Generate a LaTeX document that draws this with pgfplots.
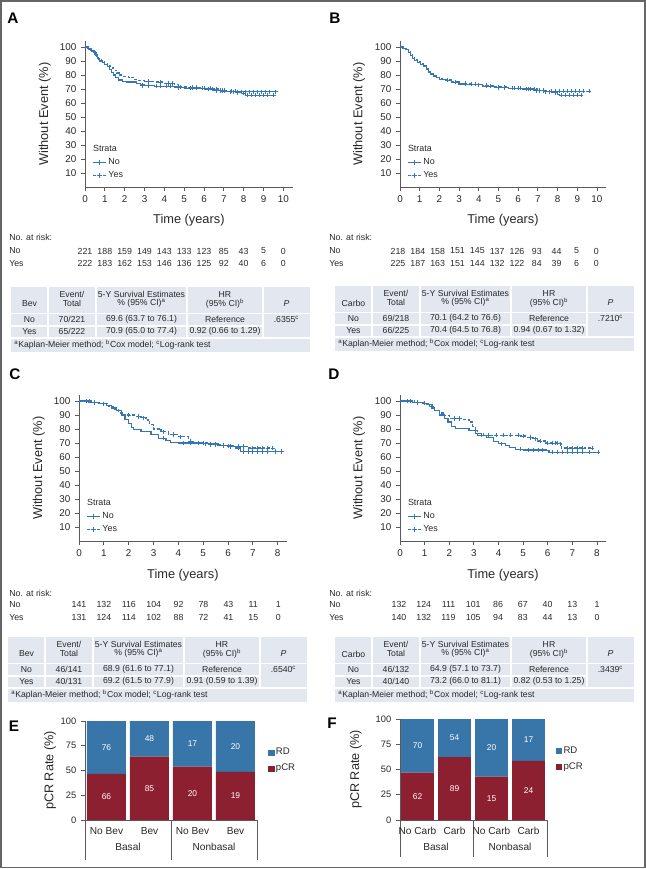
\documentclass[border=0pt]{standalone}
\usepackage{pgfplots}
\pgfplotsset{compat=1.18}
\usepackage{fontspec}
\setmainfont{Liberation Sans}
\definecolor{kmblue}{RGB}{55,118,182}
\definecolor{rdblue}{RGB}{56,117,168}
\definecolor{pcrred}{RGB}{140,32,48}
\definecolor{tblbg}{RGB}{226,231,240}
\definecolor{txt}{RGB}{40,40,40}
\definecolor{axc}{RGB}{90,90,90}
\newcommand\fs[1]{\fontsize{#1}{#1}\selectfont}

\pgfplotsset{
  km/.style={scale only axis, anchor=south west, height=109.2pt, ymin=0, ymax=104,
    ytick={10,20,...,100},
    axis x line*=bottom, axis y line*=left, tick align=outside, major tick length=3pt,
    axis line style={axc, line width=0.7pt}, tick style={axc, line width=0.6pt},
    tick label style={font=\fs{7.4}, text=txt},
    /pgf/number format/assume math mode=true,
    xlabel={Time (years)}, ylabel={Without Event (\%)},
    label style={font=\fs{9.6}, text=txt},
    legend style={draw=none, fill=none, anchor=north west, font=\fs{6.7}, text=txt,
      row sep=1.5pt, inner sep=0pt, nodes={inner sep=1pt}},
    legend cell align=left,
    legend image code/.code={\draw[mark repeat=2, mark phase=2, ##1] plot coordinates {(0pt,0pt) (5pt,0pt) (10pt,0pt)};},
  },
  kmno/.style={kmblue, line width=0.9pt, const plot, mark=none},
  kmyes/.style={kmblue, line width=0.9pt, const plot, mark=none, dash pattern=on 2.2pt off 1.4pt},
  cens/.style={only marks, kmblue, mark=+, mark size=1.6pt, mark options={solid, line width=0.5pt}},
  legno/.style={kmblue, line width=0.9pt, mark=+, mark options={solid, line width=0.5pt}},
  legyes/.style={kmblue, line width=0.9pt, dash pattern=on 2.2pt off 1.4pt, mark=+, mark options={solid, line width=0.5pt}},
  barax/.style={scale only axis, anchor=south west, ybar stacked, ymin=0, ymax=100,
    ytick={0,25,50,75,100}, xtick={0,1,2,3},
    axis x line*=bottom, axis y line*=left, tick align=outside, major tick length=3pt,
    x tick style={draw=none},
    axis line style={axc, line width=0.7pt}, tick style={axc, line width=0.6pt},
    tick label style={font=\fs{7}, text=txt},
    xticklabel style={font=\fs{7.6}, yshift=1pt},
    /pgf/number format/assume math mode=true,
    ylabel={pCR Rate (\%)}, label style={font=\fs{9.5}, text=txt},
    reverse legend,
    legend style={draw=none, fill=none, anchor=west, font=\fs{7.2}, text=txt,
      row sep=3.5pt, inner sep=0pt, nodes={inner sep=1pt}},
    legend cell align=left,
    legend image code/.code={\fill[##1] (0pt,-2.3pt) rectangle (4.6pt,2.3pt);},
  },
}
\tikzset{
  tb/.style={font=\fs{6.5}, text=txt, inner sep=0pt, anchor=center},
  risk/.style={font=\fs{6.6}, text=txt, inner sep=0pt, anchor=center},
  bl/.style={font=\fs{6.3}, text=white, inner sep=0pt},
  plabel/.style={font=\bfseries\fs{11.5}, text=black, inner sep=0pt},
}

\newcommand\kmtable[9]{%
 \begin{scope}[shift={(#1,#2)}]
  \fill[tblbg] (0,0) rectangle (299,65);
  \foreach \xx in {37,85,176,252} {\draw[white, line width=1.1pt] (\xx,0) -- (\xx,51);}
  \draw[white, line width=1.1pt] (0,26.5) -- (299,26.5);
  \draw[white, line width=1.1pt] (0,38.8) -- (252,38.8);
  \draw[white, line width=1.1pt] (0,51) -- (299,51);
  \node[tb] at (18.5,17) {#3};
  \node[tb] at (61,7.5) {Event/};
  \node[tb] at (61,16.5) {Total};
  \node[tb] at (130.5,7.5) {5-Y Survival Estimates};
  \node[tb] at (130.5,16.5) {\% (95\% CI)\textsuperscript{a}};
  \node[tb] at (214,7.5) {HR};
  \node[tb] at (214,16.5) {(95\% CI)\textsuperscript{b}};
  \node[tb] at (275.5,17) {\textit{P}};
  \node[tb] at (18.5,32.5) {No};
  \node[tb] at (61,32.5) {#4};
  \node[tb] at (130.5,32.5) {#5};
  \node[tb] at (214,32.5) {Reference};
  \node[tb] at (275.5,32.5) {#6\textsuperscript{c}};
  \node[tb] at (18.5,44.5) {Yes};
  \node[tb] at (61,44.5) {#7};
  \node[tb] at (130.5,44.5) {#8};
  \node[tb] at (214,44.5) {#9};
  \node[tb, anchor=west] at (3,58) {\textsuperscript{a}Kaplan-Meier method; \textsuperscript{b}Cox model; \textsuperscript{c}Log-rank test};
 \end{scope}}

\begin{document}
\begin{tikzpicture}
\begin{scope}[x=0.75pt, y=-0.75pt]
  \useasboundingbox (0,0) rectangle (646,869);
  \draw[black!60, line width=1.1pt] (0.8,0.8) rectangle (645.2,867.5);
  % panel letters
  \node[plabel] at (13,18) {A};
  \node[plabel] at (335,18) {B};
  \node[plabel] at (15,374) {C};
  \node[plabel] at (334,374) {D};
  \node[plabel] at (14,726) {E};
  \node[plabel] at (332,723) {F};
  % numbers at risk
  \node[risk, anchor=west] at (9,237) {No. at risk:};
  \node[risk, anchor=west] at (9,251) {No};
  \node[risk, anchor=west] at (9,263.5) {Yes};
  \foreach \v [count=\i from 0] in {221,188,159,149,143,133,123,85,43,5,0} {\node[risk] at ({85+19.83*\i},251) {\v};}
  \foreach \v [count=\i from 0] in {222,183,162,153,146,136,125,92,40,6,0} {\node[risk] at ({85+19.83*\i},263.5) {\v};}
  \node[risk, anchor=west] at (329,237) {No. at risk:};
  \node[risk, anchor=west] at (329,251) {No};
  \node[risk, anchor=west] at (329,263.5) {Yes};
  \foreach \v [count=\i from 0] in {218,184,158,151,145,137,126,93,44,5,0} {\node[risk] at ({398+19.83*\i},251) {\v};}
  \foreach \v [count=\i from 0] in {225,187,163,151,144,132,122,84,39,6,0} {\node[risk] at ({398+19.83*\i},263.5) {\v};}
  \node[risk, anchor=west] at (9,593) {No. at risk:};
  \node[risk, anchor=west] at (9,604.5) {No};
  \node[risk, anchor=west] at (9,617.3) {Yes};
  \foreach \v [count=\i from 0] in {141,132,116,104,92,78,43,11,1} {\node[risk] at ({79+24.9*\i},604.5) {\v};}
  \foreach \v [count=\i from 0] in {131,124,114,102,88,72,41,15,0} {\node[risk] at ({79+24.9*\i},617.3) {\v};}
  \node[risk, anchor=west] at (329,593) {No. at risk:};
  \node[risk, anchor=west] at (329,604.5) {No};
  \node[risk, anchor=west] at (329,617.3) {Yes};
  \foreach \v [count=\i from 0] in {132,124,111,101,86,67,40,13,1} {\node[risk] at ({399+24.75*\i},604.5) {\v};}
  \foreach \v [count=\i from 0] in {140,132,119,105,94,83,44,13,0} {\node[risk] at ({399+24.75*\i},617.3) {\v};}
  % tables
  \kmtable{11}{287}{Bev}{70/221}{69.6 (63.7 to 76.1)}{.6355}{65/222}{70.9 (65.0 to 77.4)}{0.92 (0.66 to 1.29)}
  \kmtable{335}{286}{Carbo}{69/218}{70.1 (64.2 to 76.6)}{.7210}{66/225}{70.4 (64.5 to 76.8)}{0.94 (0.67 to 1.32)}
  \kmtable{8}{637}{Bev}{46/141}{68.9 (61.6 to 77.1)}{.6540}{40/131}{69.2 (61.5 to 77.9)}{0.91 (0.59 to 1.39)}
  \kmtable{335}{637}{Carbo}{46/132}{64.9 (57.1 to 73.7)}{.3439}{40/140}{73.2 (66.0 to 81.1)}{0.82 (0.53 to 1.25)}
  % group dividers and labels for E and F
  \foreach \xx in {85,171,257} {\draw[axc, line width=0.7pt] (\xx,820) -- (\xx,860);}
  \foreach \xx in {400,473,547} {\draw[axc, line width=0.7pt] (\xx,820) -- (\xx,857);}
  \node[font=\fs{7.6}, text=txt] at (128,847) {Basal};
  \node[font=\fs{7.6}, text=txt] at (214,847) {Nonbasal};
  \node[font=\fs{7.6}, text=txt] at (436,847) {Basal};
  \node[font=\fs{7.6}, text=txt] at (510,847) {Nonbasal};
\end{scope}

% ---------- A ----------
\begin{axis}[km, at={(85*0.75pt,-187*0.75pt)}, width=155.8pt, xmin=0, xmax=10.47, xtick={0,...,10},
  xlabel style={at={(axis description cs:0.5,-0.227)}, anchor=center},
  ylabel style={at={(axis description cs:-0.193,0.5)}, anchor=center},
  legend style={at={(rel axis cs:0.035,0.295)}}]
\addlegendimage{empty legend}\addlegendentry{\hspace*{-11.5pt}Strata}
\addplot[kmno, forget plot] coordinates {(0,100)(0.15,99)(0.3,97.5)(0.45,96)(0.55,94)(0.65,92)(0.75,90)(0.9,89)(1.0,87.5)(1.15,86)(1.25,84)(1.35,82)(1.45,80)(1.55,78)(1.7,76.5)(1.9,75.5)(2.1,75)(2.6,74)(2.8,73)(3.0,72.5)(3.5,72)(4.5,71.5)(4.65,71)(5.0,70.5)(6.1,70)(6.5,69)(6.9,68.5)(7.2,68)(7.6,67.5)(7.9,67)(8.1,65.5)(9.5,65.5)};
\addplot[kmyes, forget plot] coordinates {(0,100)(0.2,98.5)(0.35,97)(0.5,95)(0.6,93)(0.7,91)(0.85,89.5)(1.0,88)(1.15,86.5)(1.3,85)(1.45,83.5)(1.6,81.5)(1.75,80)(1.9,79)(2.2,78)(2.5,77)(2.7,76)(3.0,75.5)(3.6,75)(4.0,74)(4.5,73)(4.7,71.5)(5.2,71)(5.8,70.5)(6.5,70)(6.8,69)(7.2,68.5)(7.7,68)(9.6,68)};
\addplot[cens, forget plot] coordinates {(2.9,72.5)(3.2,72.5)(3.6,72)(3.8,72)(4.1,72)(4.3,72)(4.7,71)(5.3,70.5)(5.6,70.5)(5.9,70.5)(6.2,70)(6.4,70)(6.6,69)(6.8,69)(7.0,68.5)(7.3,68)(7.5,68)(7.7,67.5)(8.0,67)(8.2,65.5)(8.4,65.5)(8.6,65.5)(8.8,65.5)(9.0,65.5)(9.2,65.5)(9.5,65.5)};
\addplot[cens, forget plot] coordinates {(3.2,75.5)(3.8,75)(4.2,74)(4.4,74)(4.8,71.5)(5.4,71)(5.6,71)(6.0,70.5)(6.3,70.5)(6.6,70)(6.9,69)(7.0,69)(7.4,68.5)(7.6,68.5)(7.9,68)(8.1,68)(8.3,68)(8.5,68)(8.7,68)(8.9,68)(9.1,68)(9.3,68)(9.6,68)};
\addlegendimage{legno}\addlegendentry{No}
\addlegendimage{legyes}\addlegendentry{Yes}
\end{axis}

% ---------- B ----------
\begin{axis}[km, at={(400*0.75pt,-187*0.75pt)}, width=154.5pt, xmin=0, xmax=10.46, xtick={0,...,10},
  xlabel style={at={(axis description cs:0.5,-0.227)}, anchor=center},
  ylabel style={at={(axis description cs:-0.199,0.5)}, anchor=center},
  legend style={at={(rel axis cs:0.035,0.295)}}]
\addlegendimage{empty legend}\addlegendentry{\hspace*{-11.5pt}Strata}
\addplot[kmno, forget plot] coordinates {(0,100)(0.15,99)(0.3,98)(0.45,96)(0.55,94)(0.65,92)(0.75,90.5)(0.9,89)(1.05,87.5)(1.2,86)(1.35,84)(1.45,82)(1.55,80.5)(1.7,79)(1.85,78)(2.0,77)(2.3,76)(2.6,74.5)(3.0,73.5)(3.8,73)(4.2,72)(4.8,71)(5.5,70.5)(6.2,70)(6.8,69)(7.3,68)(7.7,67.5)(8.0,66)(8.1,65.5)(9.2,65.5)};
\addplot[kmyes, forget plot] coordinates {(0,100)(0.15,99)(0.3,98)(0.45,96.5)(0.55,94.5)(0.65,92.5)(0.75,91)(0.9,89.5)(1.05,88)(1.2,86.5)(1.35,84.5)(1.45,82.5)(1.55,81)(1.7,79.5)(1.85,78.5)(2.0,77.5)(2.3,76.5)(2.6,75)(3.0,74)(3.6,73.5)(4.2,72.5)(4.8,71.5)(5.5,70.5)(6.3,70)(7.0,69)(7.5,68.5)(9.6,68.5)};
\addplot[cens, forget plot] coordinates {(3.3,73.5)(3.6,73.5)(4.0,73)(4.4,72)(4.6,72)(5.0,71)(5.3,71)(5.7,70.5)(6.0,70.5)(6.4,70)(6.6,70)(6.9,69)(7.1,69)(7.4,68)(7.6,68)(7.9,67.5)(8.2,65.5)(8.4,65.5)(8.6,65.5)(8.8,65.5)(9.0,65.5)(9.2,65.5)};
\addplot[cens, forget plot] coordinates {(2.4,76.5)(2.8,75)(3.3,74)(3.8,73.5)(4.4,72.5)(5.0,71.5)(5.3,71.5)(5.8,70.5)(6.1,70.5)(6.5,70)(6.8,70)(7.1,69)(7.3,69)(7.7,68.5)(7.9,68.5)(8.1,68.5)(8.3,68.5)(8.5,68.5)(8.7,68.5)(8.9,68.5)(9.1,68.5)(9.3,68.5)(9.6,68.5)};
\addlegendimage{legno}\addlegendentry{No}
\addlegendimage{legyes}\addlegendentry{Yes}
\end{axis}

% ---------- C ----------
\begin{axis}[km, at={(79*0.75pt,-541*0.75pt)}, width=155.8pt, xmin=0, xmax=8.365, xtick={0,...,8},
  xlabel style={at={(axis description cs:0.5,-0.2335)}, anchor=center},
  ylabel style={at={(axis description cs:-0.193,0.5)}, anchor=center},
  legend style={at={(rel axis cs:0.035,0.295)}}]
\addlegendimage{empty legend}\addlegendentry{\hspace*{-11.5pt}Strata}
\addplot[kmno, forget plot] coordinates {(0,100)(0.4,99)(0.8,98)(1.1,97)(1.3,95)(1.5,93)(1.7,90)(1.85,87)(2.0,84)(2.1,81)(2.2,79.5)(2.5,78)(2.9,76)(3.2,73.5)(3.5,72)(3.7,70.5)(4.0,70)(5.0,69.5)(5.6,68.5)(6.0,67.5)(6.3,66.5)(6.5,64)(8.15,64)};
\addplot[kmyes, forget plot] coordinates {(0,100)(0.5,99)(0.9,98)(1.2,96)(1.4,94)(1.6,91.5)(1.75,90)(2.3,89)(2.5,88)(2.7,86.5)(2.85,83)(3.0,80)(3.3,78)(3.6,76)(4.0,74.5)(4.4,71)(4.6,70)(5.2,69)(5.7,68)(6.2,67.5)(6.8,66.5)(7.8,66.5)};
\addplot[cens, forget plot] coordinates {(0.3,100)(0.6,99)(1.0,98)(3.4,73.5)(4.2,70)(4.5,70)(4.8,70)(5.1,69.5)(5.3,69.5)(5.5,69.5)(5.8,68.5)(6.1,67.5)(6.4,66.5)(6.6,64)(6.8,64)(7.0,64)(7.2,64)(7.4,64)(7.6,64)(7.9,64)(8.15,64)};
\addplot[cens, forget plot] coordinates {(0.4,100)(2.0,90)(2.4,89)(2.6,88)(3.4,78)(3.8,76)(4.1,74.5)(4.5,71)(4.8,70)(5.0,70)(5.3,69)(5.5,69)(5.8,68)(6.0,68)(6.4,67.5)(6.6,67.5)(7.0,66.5)(7.2,66.5)(7.4,66.5)(7.6,66.5)(7.8,66.5)};
\addlegendimage{legno}\addlegendentry{No}
\addlegendimage{legyes}\addlegendentry{Yes}
\end{axis}

% ---------- D ----------
\begin{axis}[km, at={(400*0.75pt,-541*0.75pt)}, width=154.5pt, xmin=0, xmax=8.366, xtick={0,...,8},
  xlabel style={at={(axis description cs:0.5,-0.2335)}, anchor=center},
  ylabel style={at={(axis description cs:-0.199,0.5)}, anchor=center},
  legend style={at={(rel axis cs:0.035,0.295)}}]
\addlegendimage{empty legend}\addlegendentry{\hspace*{-11.5pt}Strata}
\addplot[kmno, forget plot] coordinates {(0,100)(0.5,99)(0.9,98.5)(1.1,97.5)(1.3,95)(1.4,93)(1.6,90)(1.8,87.5)(1.95,85)(2.1,82)(2.25,80.5)(2.8,79)(3.05,77)(3.15,75.5)(3.5,74)(3.8,71)(4.0,69.5)(4.3,68.5)(4.45,67)(4.7,65.5)(5.0,65)(5.95,64.5)(6.05,63.5)(8.05,63.5)};
\addplot[kmyes, forget plot] coordinates {(0,100)(0.6,99)(1.0,98)(1.2,96)(1.35,93.5)(1.6,91.5)(1.8,89.5)(2.0,87.5)(2.6,87)(2.8,85)(2.95,82)(3.05,79)(3.15,77)(3.4,75.5)(4.9,75)(5.1,74)(5.4,73)(5.6,71.5)(5.9,70)(6.5,69.5)(6.55,66.5)(7.8,66.5)};
\addplot[cens, forget plot] coordinates {(0.4,100)(0.7,99)(1.0,98.5)(3.3,75.5)(4.1,69.5)(4.9,65.5)(5.2,65)(5.4,65)(5.6,65)(5.8,65)(6.2,63.5)(6.4,63.5)(6.6,63.5)(6.8,63.5)(7.0,63.5)(7.2,63.5)(7.4,63.5)(7.7,63.5)(8.05,63.5)};
\addplot[cens, forget plot] coordinates {(0.3,100)(2.2,87.5)(2.4,87.5)(3.6,75.5)(3.9,75.5)(4.2,75.5)(4.5,75.5)(4.8,75.5)(5.0,75)(5.3,74)(5.5,73)(5.7,71.5)(6.0,70)(6.2,70)(6.3,70)(6.4,70)(6.5,69.5)(6.8,66.5)(7.0,66.5)(7.2,66.5)(7.4,66.5)(7.8,66.5)};
\addlegendimage{legno}\addlegendentry{No}
\addlegendimage{legyes}\addlegendentry{Yes}
\end{axis}

% ---------- E ----------
\begin{axis}[barax, at={(85*0.75pt,-820*0.75pt)}, width=129pt, height=74.25pt,
  xmin=-0.5, xmax=3.5, bar width=0.907, xticklabels={No Bev,Bev,No Bev,Bev},
  ylabel style={at={(axis description cs:-0.2035,0.5)}, anchor=center},
  legend style={at={(axis description cs:1.065,0.6)}}]
\addplot[fill=pcrred, draw=none] coordinates {(0,46.48)(1,63.91)(2,54.05)(3,48.72)};
\addlegendentry{pCR}
\addplot[fill=rdblue, draw=none] coordinates {(0,53.52)(1,36.09)(2,45.95)(3,51.28)};
\addlegendentry{RD}
\coordinate (e1) at (axis cs:0,23.24);
\coordinate (e2) at (axis cs:1,31.95);
\coordinate (e3) at (axis cs:2,27.03);
\coordinate (e4) at (axis cs:3,24.36);
\coordinate (e5) at (axis cs:0,73.24);
\coordinate (e6) at (axis cs:1,81.95);
\coordinate (e7) at (axis cs:2,77.03);
\coordinate (e8) at (axis cs:3,74.36);
\end{axis}
\node[bl] at (e1) {66};
\node[bl] at (e2) {85};
\node[bl] at (e3) {20};
\node[bl] at (e4) {19};
\node[bl] at (e5) {76};
\node[bl] at (e6) {48};
\node[bl] at (e7) {17};
\node[bl] at (e8) {20};

% ---------- F ----------
\begin{axis}[barax, at={(400*0.75pt,-820*0.75pt)}, width=110.25pt, height=75.75pt,
  xmin=-0.473, xmax=3.5, bar width=0.89, xticklabels={No Carb,Carb,No Carb,Carb},
  ylabel style={at={(axis description cs:-0.30,0.5)}, anchor=center},
  legend style={at={(axis description cs:1.06,0.6)}}]
\addplot[fill=pcrred, draw=none] coordinates {(0,46.97)(1,62.24)(2,42.86)(3,58.54)};
\addlegendentry{pCR}
\addplot[fill=rdblue, draw=none] coordinates {(0,53.03)(1,37.76)(2,57.14)(3,41.46)};
\addlegendentry{RD}
\coordinate (f1) at (axis cs:0,23.48);
\coordinate (f2) at (axis cs:1,31.12);
\coordinate (f3) at (axis cs:2,21.43);
\coordinate (f4) at (axis cs:3,29.27);
\coordinate (f5) at (axis cs:0,73.48);
\coordinate (f6) at (axis cs:1,81.12);
\coordinate (f7) at (axis cs:2,71.43);
\coordinate (f8) at (axis cs:3,79.27);
\end{axis}
\node[bl] at (f1) {62};
\node[bl] at (f2) {89};
\node[bl] at (f3) {15};
\node[bl] at (f4) {24};
\node[bl] at (f5) {70};
\node[bl] at (f6) {54};
\node[bl] at (f7) {20};
\node[bl] at (f8) {17};
\end{tikzpicture}
\end{document}
